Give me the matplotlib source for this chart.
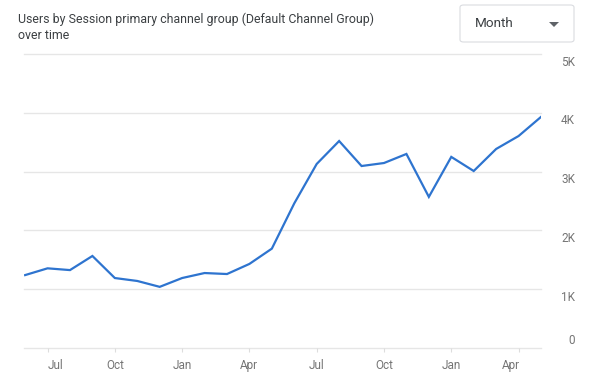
import matplotlib
matplotlib.use("Agg")
import matplotlib.pyplot as plt
from matplotlib.patches import FancyBboxPatch, Polygon
import matplotlib.transforms as mtransforms

plt.rcParams['font.family'] = ['Roboto', 'DejaVu Sans']

title = "Users by Session primary channel group (Default Channel Group)\nover time"
months = ["Jun", "Jul", "Aug", "Sep", "Oct", "Nov", "Dec", "Jan", "Feb", "Mar", "Apr", "May",
          "Jun", "Jul", "Aug", "Sep", "Oct", "Nov", "Dec", "Jan", "Feb", "Mar", "Apr", "May"]
users = [1240, 1355, 1325, 1565, 1190, 1140, 1040, 1190, 1275, 1258, 1430, 1690,
         2460, 3130, 3520, 3095, 3146, 3300, 2570, 3250, 3010, 3385, 3605, 3930]
tick_labels = ["Jul", "Oct", "Jan", "Apr", "Jul", "Oct", "Jan", "Apr"]
y_ticks = [0, 1000, 2000, 3000, 4000, 5000]
y_tick_labels = ["0", "1K", "2K", "3K", "4K", "5K"]

W, H = 600, 390
fig = plt.figure(figsize=(6, 3.9), dpi=100)
fig.patch.set_facecolor("white")

ax = fig.add_axes([24 / W, 1 - 348 / H, (541 - 24) / W, (348 - 54) / H])
x = list(range(len(users)))
ax.plot(x, users, color="#2e74cf", lw=1.6, solid_joinstyle="miter", zorder=3)
ax.set_xlim(-0.05, len(users) - 1)
ax.set_ylim(0, 5000)

for s in ax.spines.values():
    s.set_visible(False)

# gridlines
grid_col = "#e6e6e6"
for v in y_ticks:
    ax.axhline(v, color=grid_col, lw=1.0, zorder=1, clip_on=False)
    ax.plot([547 / W, 575 / W], [1 - (348 - v / 5000 * 294) / H] * 2,
            transform=fig.transFigure, color=grid_col, lw=1.0)

# y labels
for v, lab in zip(y_ticks, y_tick_labels):
    ypix = 348 - v / 5000 * 294
    ypos = ypix + 8 if v > 0 else ypix - 8
    fig.text(575 / W, 1 - ypos / H, lab, ha="right", va="center",
             fontsize=8.5, color="#757575")

# x ticks
tick_pos = [i for i, m in enumerate(months) if m in ("Jul", "Oct", "Jan", "Apr")]
ax.set_xticks(tick_pos)
ax.set_xticklabels(tick_labels, fontsize=8.5, color="#757575")
ax.tick_params(axis="x", length=3, color="#dddddd", pad=5)
ax.tick_params(axis="y", left=False, labelleft=False)
labels = ax.get_xticklabels()
labels[0].set_transform(labels[0].get_transform() +
                        mtransforms.ScaledTranslation(8 / 100, 0, fig.dpi_scale_trans))
labels[-1].set_transform(labels[-1].get_transform() +
                         mtransforms.ScaledTranslation(-8 / 100, 0, fig.dpi_scale_trans))

# title
fig.text(18 / W, 1 - 13 / H, title, ha="left", va="top", fontsize=8.9,
         color="#3c4043", linespacing=1.3)

# Month dropdown
box = FancyBboxPatch((460 / W, 1 - 42 / H), (574 - 460) / W, (42 - 5) / H,
                     boxstyle="round,pad=0,rounding_size=0.006",
                     transform=fig.transFigure, facecolor="white",
                     edgecolor="#dadce0", lw=0.8)
fig.patches.append(box)
fig.text(475 / W, 1 - 23.5 / H, "Month", ha="left", va="center", fontsize=9.7,
         color="#3c4043")
tri = Polygon([[549 / W, 1 - 22 / H], [559 / W, 1 - 22 / H], [554 / W, 1 - 27 / H]],
              closed=True, transform=fig.transFigure, facecolor="#5f6368",
              edgecolor="none")
fig.patches.append(tri)

fig.savefig("out.png", dpi=100, facecolor="white")
